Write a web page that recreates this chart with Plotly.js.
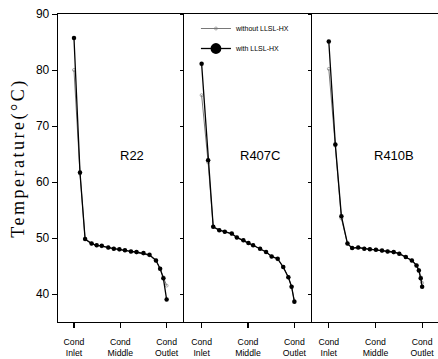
<!DOCTYPE html>
<html>
<head>
<meta charset="utf-8">
<script src="https://cdn.plot.ly/plotly-3.0.1.min.js"></script>
<style>
html,body{margin:0;padding:0;background:#fff;}
#chart{width:438px;height:359px;}
.ytitle{letter-spacing:2.5px;}
</style>
</head>
<body>
<div id="chart"></div>
<script>
// Condenser positions (0 = Cond Inlet, 1 = Cond Middle, 2 = Cond Outlet)
const tickVals = [0, 1, 2];
const tickLabels = ['Cond<br>Inlet', 'Cond<br>Middle', 'Cond<br>Outlet'];
const panelNames = ['R22', 'R407C', 'R410B'];
const seriesNames = ['without LLSL-HX', 'with LLSL-HX'];

// R22
const r22Pos = [0, 0.13, 0.24, 0.38, 0.49, 0.60, 0.74, 0.86, 0.98, 1.10, 1.23, 1.35, 1.50, 1.63, 1.77, 1.86, 1.93, 2.0];
const r22With = [85.7, 61.7, 49.8, 49.0, 48.7, 48.6, 48.3, 48.1, 48.0, 47.8, 47.6, 47.5, 47.3, 47.0, 46.0, 44.5, 42.8, 39.0];
const r22Without = [80.0, 61.5, 49.8, 49.0, 48.7, 48.5, 48.3, 48.1, 47.9, 47.8, 47.6, 47.4, 47.2, 46.9, 46.0, 44.5, 43.0, 41.5];

// R407C
const r407cPos = [0, 0.14, 0.25, 0.38, 0.50, 0.65, 0.76, 0.90, 1.01, 1.11, 1.26, 1.39, 1.51, 1.64, 1.76, 1.87, 1.94, 2.0];
const r407cWith = [81.1, 63.9, 52.0, 51.4, 51.1, 50.8, 50.1, 49.6, 49.1, 48.7, 48.1, 47.5, 46.7, 46.3, 44.8, 43.0, 41.3, 38.6];
const r407cWithout = [75.5, 63.5, 52.0, 51.4, 51.1, 50.7, 50.1, 49.6, 49.1, 48.7, 48.1, 47.5, 46.7, 46.2, 44.8, 43.0, 41.3, 38.8];

// R410B
const r410bPos = [0, 0.14, 0.27, 0.40, 0.50, 0.63, 0.76, 0.88, 1.01, 1.14, 1.26, 1.39, 1.51, 1.65, 1.78, 1.88, 1.93, 1.97, 2.0];
const r410bWith = [85.1, 66.7, 53.9, 49.0, 48.2, 48.3, 48.1, 48.0, 47.9, 47.75, 47.6, 47.5, 47.2, 46.6, 46.0, 45.1, 44.2, 42.8, 41.3];
const r410bWithout = [80.2, 66.5, 53.5, 49.0, 48.2, 48.3, 48.1, 48.0, 47.9, 47.7, 47.6, 47.4, 47.2, 46.6, 46.0, 45.1, 44.3, 43.0, 42.0];

// panel label positions (data coords)
const labelPos = [[1.26, 64.8], [1.26, 64.8], [1.40, 64.8]];

const panels = [
  {pos: r22Pos, w: r22With, wo: r22Without, xa: 'x', ya: 'y'},
  {pos: r407cPos, w: r407cWith, wo: r407cWithout, xa: 'x2', ya: 'y2'},
  {pos: r410bPos, w: r410bWith, wo: r410bWithout, xa: 'x3', ya: 'y3'}
];

const traces = [];
panels.forEach((p, i) => {
  traces.push({
    x: p.pos, y: p.wo, xaxis: p.xa, yaxis: p.ya, type: 'scatter', mode: 'lines+markers',
    name: seriesNames[0], legendgroup: 'wo', showlegend: i === 0,
    line: {color: '#555', width: 0.8},
    marker: {symbol: 'circle-open', size: 3, color: '#777', line: {width: 0.6, color: '#888'}}
  });
  traces.push({
    x: p.pos, y: p.w, xaxis: p.xa, yaxis: p.ya, type: 'scatter', mode: 'lines+markers',
    name: seriesNames[1], legendgroup: 'w', showlegend: i === 0,
    line: {color: '#000', width: 1.3},
    marker: {symbol: 'circle', size: 4.5, color: '#000'}
  });
});

const tickFont = {family: 'Liberation Sans, Arial, sans-serif', size: 8.7, color: '#000'};
function xAxis(domain, range, anchor) {
  return {
    domain: domain, range: range, anchor: anchor,
    tickvals: tickVals, ticktext: tickLabels, ticks: 'outside', ticklen: 5, tickwidth: 1.2,
    tickcolor: '#000', ticklabelstandoff: 6,
    showline: true, linecolor: '#000', linewidth: 1.3, mirror: true,
    showgrid: false, zeroline: false, tickfont: tickFont, fixedrange: true
  };
}
function yAxis(anchor, labels) {
  return {
    anchor: anchor, range: [35, 90], dtick: 10, tick0: 40,
    ticks: 'outside', ticklen: labels ? 5 : 3, tickwidth: 1, tickcolor: '#000',
    showticklabels: labels, showline: true, linecolor: '#000', linewidth: 1.3,
    showgrid: false, zeroline: false,
    tickfont: {family: 'Liberation Sans, Arial, sans-serif', size: 12, color: '#000'}
  };
}

const d1 = 126 / 380, d2 = 254 / 380;
const layout = {
  width: 438, height: 359,
  margin: {l: 58, r: 0, t: 14, b: 37},
  paper_bgcolor: '#fff', plot_bgcolor: '#fff',
  showlegend: true,
  legend: {
    x: 0.363, y: 1.0, xanchor: 'left', yanchor: 'top',
    bgcolor: 'rgba(0,0,0,0)',
    font: {family: 'Liberation Sans, Arial, sans-serif', size: 7, color: '#000'},
    tracegroupgap: 1
  },
  xaxis: xAxis([0, d1], [-0.345, 2.375], 'y'),
  xaxis2: xAxis([d1, d2], [-0.38, 2.38], 'y2'),
  xaxis3: xAxis([d2, 1], [-0.36, 2.34], 'y3'),
  yaxis: Object.assign(yAxis('x', true), {
    title: {text: 'Temperature(°C)', standoff: 6,
      font: {family: 'Liberation Serif, Times New Roman, serif', size: 18, color: '#000'}}
  }),
  yaxis2: Object.assign(yAxis('x2', false), {matches: 'y'}),
  yaxis3: Object.assign(yAxis('x3', false), {matches: 'y'}),
  annotations: panelNames.map((n, i) => ({
    text: n, x: labelPos[i][0], y: labelPos[i][1],
    xref: ['x', 'x2', 'x3'][i], yref: ['y', 'y2', 'y3'][i],
    showarrow: false,
    font: {family: 'Liberation Sans, Arial, sans-serif', size: 13, color: '#000'}
  }))
};

Plotly.newPlot('chart', traces, layout, {staticPlot: true, displayModeBar: false}).then(gd => {
  // enlarge the legend symbol of the "with" series, as in the original legend
  gd.querySelectorAll('.legend .traces').forEach(tr => {
    const txt = tr.querySelector('.legendtext');
    if (txt && txt.textContent === seriesNames[1]) {
      tr.querySelectorAll('.legendpoints path').forEach(p => {
        const t = p.getAttribute('transform') || '';
        p.setAttribute('transform', t + ' scale(2.4)');
      });
    }
  });
  // nudge the y title slightly upward along its direction
  const yt = gd.querySelector('.ytitle');
  if (yt) yt.setAttribute('dx', '10');
});
</script>
</body>
</html>
